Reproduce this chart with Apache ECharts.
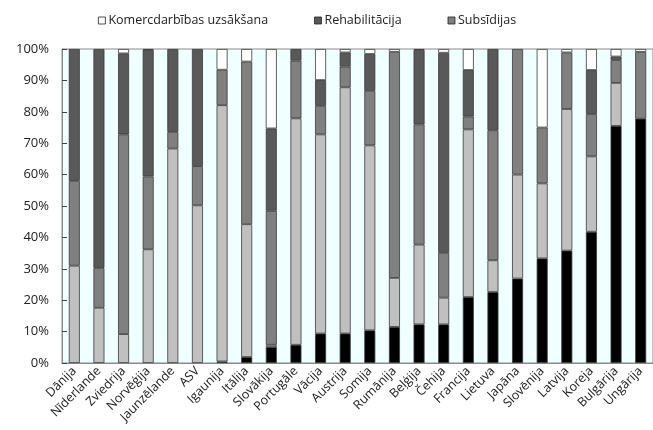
<!DOCTYPE html>
<html><head><meta charset="utf-8">
<script src="https://cdn.jsdelivr.net/npm/echarts@6/dist/echarts.min.js"></script>
<style>html,body{margin:0;padding:0;background:#fff}#c{width:653px;height:430px}</style>
</head><body><div id="c"></div>
<script>
const categories = ['Dānija','Nīderlande','Zviedrija','Norvēģija','Jaunzēlande','ASV','Igaunija','Itālija','Slovākija','Portugāle','Vācija','Austrija','Somija','Rumānija','Beļģija','Čehija','Francija','Lietuva','Japāna','Slovēnija','Latvija','Koreja','Bulgārija','Ungārija'];
const blackVals  = [0,0,0,0,0,0,0.5,1.9,5.1,5.8,9.4,9.4,10.4,11.5,12.3,12.3,21.0,22.6,26.9,33.3,35.8,41.8,75.5,77.8];
const lightVals  = [31,17.6,9.2,36.2,68.3,50.2,81.6,42.3,0.7,72.1,63.4,78.4,58.9,15.6,25.4,8.5,53.4,10.1,33.1,23.9,45.1,24.0,13.7,0];
const subsidijas = [27,12.7,63.6,23.2,5.3,12.5,11.3,51.8,42.7,18.4,9.1,6.6,17.4,72.0,38.3,14.3,4.1,41.4,40.0,17.8,18.0,13.5,7.3,21.3];
const rehab      = [42,69.7,25.8,40.3,26.4,37.3,0,0,26.2,3.7,8.2,4.5,11.7,0,23.7,63.7,14.8,25.9,0,0,0,14.0,1.1,0];
const komerc     = [0,0,1.4,0.3,0,0,6.6,4.0,25.3,0,9.9,1.1,1.6,0.9,0.3,1.2,6.7,0,0,25.0,1.1,6.7,2.4,0.9];
const yTicks = [0,10,20,30,40,50,60,70,80,90,100];

const font = '"Open Sans", sans-serif';
const chart = echarts.init(document.getElementById('c'));
function s(name, data, color){
  return {name, type:'bar', stack:'a', data:data.map(v=>v===0?'-':v), barWidth:11,
    itemStyle:{color, borderColor:'#3a3a3a', borderWidth:0.8}};
}
chart.setOption({
  animation:false,
  textStyle:{fontFamily:font},
  legend:{top:9, left:93, itemWidth:7, itemHeight:7, itemGap:46,
    icon:'rect',
    data:[{name:'Komercdarbības uzsākšana'},{name:'Rehabilitācija'},{name:'Subsīdijas'}],
    textStyle:{fontSize:12.5, color:'#222', fontFamily:font, padding:[0,0,0,-2]},
    itemStyle:{borderColor:'#222', borderWidth:0.8}},
  grid:{left:62, top:49, bottom:67, right:-7, show:true, backgroundColor:'#f0ffff', borderColor:'#8a8a8a', borderWidth:1},
  xAxis:{type:'category', data:categories,
    axisLine:{lineStyle:{color:'#8a8a8a'}},
    axisTick:{inside:true, length:5, interval:0, lineStyle:{color:'#444'}},
    axisLabel:{rotate:45, interval:0, fontSize:12.5, color:'#222', fontFamily:font, margin:6}},
  yAxis:{type:'value', min:0, max:100, interval:10,
    axisLine:{show:true, lineStyle:{color:'#8a8a8a'}},
    axisTick:{show:true, inside:true, length:5, lineStyle:{color:'#444'}},
    splitLine:{show:false},
    axisLabel:{formatter:v=>yTicks.includes(v)?v+'%':'', fontSize:13, color:'#222', fontFamily:font, margin:13}},
  series:[
    s('Melns', blackVals, '#000000'),
    s('Gaiši pelēks', lightVals, '#c0c0c0'),
    s('Subsīdijas', subsidijas, '#808080'),
    s('Rehabilitācija', rehab, '#595959'),
    s('Komercdarbības uzsākšana', komerc, '#ffffff')
  ]
});
</script></body></html>
